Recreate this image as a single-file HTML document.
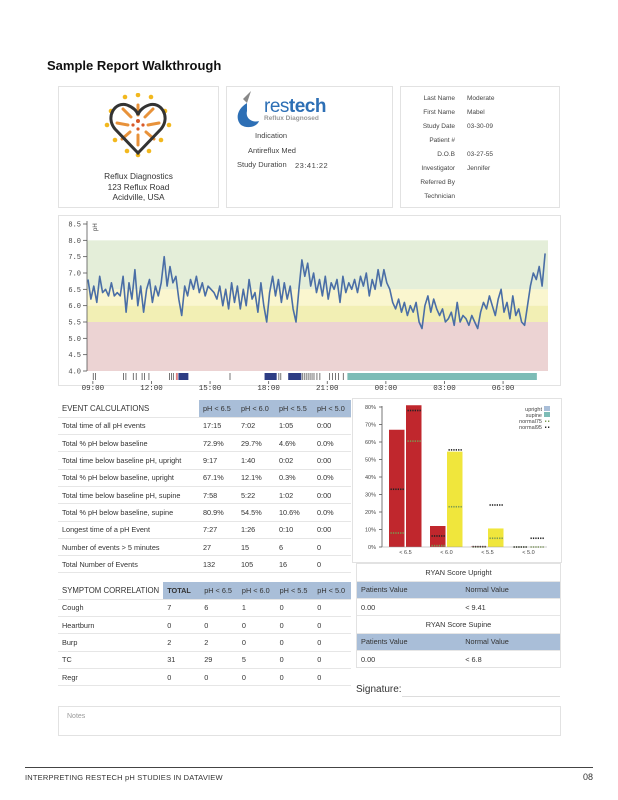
<!DOCTYPE html>
<html><head><meta charset="utf-8"><style>
*{box-sizing:border-box;margin:0;padding:0}
body{width:618px;height:800px;background:#fff;font-family:"Liberation Sans",sans-serif;color:#333;position:relative;overflow:hidden}
.abs{position:absolute}
.box{position:absolute;border:1px solid #e2e2e2;background:#fff}
.t{position:absolute;font-size:7px;color:#444;white-space:nowrap}
table{border-collapse:collapse;font-size:7.3px;color:#333}
td{height:17.3px;border-bottom:1px solid #e6e6e6;padding:0 4px;white-space:nowrap}
.hd{background:#a9bed8}
</style></head><body>
<div class="abs" style="left:47px;top:58px;font-size:13px;font-weight:bold;color:#111">Sample Report Walkthrough</div>

<div class="box" style="left:58px;top:86px;width:161px;height:122px">
<svg class="abs" style="left:44px;top:6px" width="70" height="70" viewBox="0 0 70 70">
<g fill="#f2b81e"><circle cx="22" cy="4" r="2.3"/><circle cx="35" cy="2" r="2.3"/><circle cx="48" cy="4" r="2.3"/><circle cx="62" cy="18" r="2.3"/><circle cx="66" cy="32" r="2.3"/><circle cx="58" cy="47" r="2.3"/><circle cx="46" cy="58" r="2.3"/><circle cx="35" cy="62" r="2.3"/><circle cx="24" cy="58" r="2.3"/><circle cx="12" cy="47" r="2.3"/><circle cx="4" cy="32" r="2.3"/><circle cx="8" cy="18" r="2.3"/></g>
<g stroke="#e8923a" stroke-width="3" stroke-linecap="round"><line x1="35" y1="22" x2="35" y2="12"/><line x1="28" y1="24" x2="20" y2="16"/><line x1="42" y1="24" x2="50" y2="16"/><line x1="25" y1="32" x2="14" y2="30"/><line x1="45" y1="32" x2="56" y2="30"/><line x1="27" y1="39" x2="19" y2="46"/><line x1="43" y1="39" x2="51" y2="46"/><line x1="35" y1="42" x2="35" y2="52"/></g>
<g fill="#d85a2a"><circle cx="35" cy="28" r="2"/><circle cx="30" cy="32" r="1.6"/><circle cx="40" cy="32" r="1.6"/><circle cx="35" cy="36" r="1.6"/></g>
<path d="M35 60 L12 36 C2 24 12 8 24 12 C30 14 34 18 35 22 C36 18 40 14 46 12 C58 8 68 24 58 36 Z" fill="none" stroke="#333" stroke-width="3"/>
</svg>
<div class="abs" style="left:0;width:159px;top:84px;text-align:center;font-size:8.3px;line-height:10.5px;color:#333">Reflux Diagnostics<br>123 Reflux Road<br>Acidville, USA</div>
</div>

<div class="box" style="left:226px;top:86px;width:167px;height:122px">
<svg class="abs" style="left:6px;top:2px" width="30" height="40" viewBox="0 0 30 40"><path d="M18 2 L10 10 L14 14 Z" fill="#888"/><path d="M14 14 C4 20 2 30 8 36 C14 40 24 38 26 32 C20 34 12 30 14 22 Z" fill="#2d6fb5"/></svg>
<div class="abs" style="left:37px;top:9px;font-size:19px;color:#2d6fb5;letter-spacing:-0.5px">res<b>tech</b></div>
<div class="abs" style="left:37px;top:28px;font-size:6.5px;color:#999;font-weight:bold">Reflux Diagnosed</div>
<div class="t" style="left:28px;top:44px;font-size:7.5px">Indication</div>
<div class="t" style="left:21px;top:59px;font-size:7.5px">Antireflux Med</div>
<div class="t" style="left:10px;top:73px;font-size:7.5px">Study Duration</div>
<div class="t" style="left:68px;top:74px;font-size:7.5px;letter-spacing:.5px">23:41:22</div>
</div>

<div class="box" style="left:400px;top:86px;width:160px;height:122px">
<div class="abs" style="right:104px;top:5px;text-align:right;font-size:6.5px;line-height:14px;color:#444">Last Name<br>First Name<br>Study Date<br>Patient #<br>D.O.B<br>Investigator<br>Referred By<br>Technician</div>
<div class="abs" style="left:66px;top:5px;font-size:6.5px;line-height:14px;color:#444">Moderate<br>Mabel<br>03-30-09<br><br>03-27-55<br>Jennifer</div>
</div>

<div class="box" style="left:58px;top:215px;width:503px;height:171px"></div>
<svg id="ph" class="abs" style="left:0;top:0" width="618" height="400"></svg>

<div class="box" style="left:58px;top:400px;width:293px;height:176px;border:none">
<table style="width:293px">
<tr><td style="width:141px;font-size:7.8px">EVENT CALCULATIONS</td><td class="hd">pH &lt; 6.5</td><td class="hd">pH &lt; 6.0</td><td class="hd">pH &lt; 5.5</td><td class="hd">pH &lt; 5.0</td></tr>
<tr><td>Total time of all pH events</td><td>17:15</td><td>7:02</td><td>1:05</td><td>0:00</td></tr>
<tr><td>Total % pH below baseline</td><td>72.9%</td><td>29.7%</td><td>4.6%</td><td>0.0%</td></tr>
<tr><td>Total time below baseline pH, upright</td><td>9:17</td><td>1:40</td><td>0:02</td><td>0:00</td></tr>
<tr><td>Total % pH below baseline, upright</td><td>67.1%</td><td>12.1%</td><td>0.3%</td><td>0.0%</td></tr>
<tr><td>Total time below baseline pH, supine</td><td>7:58</td><td>5:22</td><td>1:02</td><td>0:00</td></tr>
<tr><td>Total % pH below baseline, supine</td><td>80.9%</td><td>54.5%</td><td>10.6%</td><td>0.0%</td></tr>
<tr><td>Longest time of a pH Event</td><td>7:27</td><td>1:26</td><td>0:10</td><td>0:00</td></tr>
<tr><td>Number of events &gt; 5 minutes</td><td>27</td><td>15</td><td>6</td><td>0</td></tr>
<tr><td>Total Number of Events</td><td>132</td><td>105</td><td>16</td><td>0</td></tr>
</table></div>

<div class="box" style="left:58px;top:582px;width:293px;height:105px;border:none">
<table style="width:293px">
<tr><td style="width:105px;font-size:7.8px">SYMPTOM CORRELATION</td><td class="hd" style="width:37px;font-weight:bold">TOTAL</td><td class="hd">pH &lt; 6.5</td><td class="hd">pH &lt; 6.0</td><td class="hd">pH &lt; 5.5</td><td class="hd">pH &lt; 5.0</td></tr>
<tr><td>Cough</td><td>7</td><td>6</td><td>1</td><td>0</td><td>0</td></tr>
<tr><td>Heartburn</td><td>0</td><td>0</td><td>0</td><td>0</td><td>0</td></tr>
<tr><td>Burp</td><td>2</td><td>2</td><td>0</td><td>0</td><td>0</td></tr>
<tr><td>TC</td><td>31</td><td>29</td><td>5</td><td>0</td><td>0</td></tr>
<tr><td>Regr</td><td>0</td><td>0</td><td>0</td><td>0</td><td>0</td></tr>
</table></div>

<div class="box" style="left:352px;top:398px;width:210px;height:165px"></div>
<svg id="bar" class="abs" style="left:352px;top:398px" width="210" height="165"></svg>

<div class="box" style="left:356px;top:563px;width:205px;height:105px">
<table style="width:203px;font-size:7.3px">
<tr><td colspan="2" style="text-align:center">RYAN Score Upright</td></tr>
<tr class="hd"><td>Patients Value</td><td>Normal Value</td></tr>
<tr><td>0.00</td><td>&lt; 9.41</td></tr>
<tr><td colspan="2" style="text-align:center">RYAN Score Supine</td></tr>
<tr class="hd"><td>Patients Value</td><td>Normal Value</td></tr>
<tr><td style="border:none">0.00</td><td style="border:none">&lt; 6.8</td></tr>
</table></div>

<div class="abs" style="left:356px;top:684px;font-size:10px;color:#333">Signature:</div>
<div class="abs" style="left:402px;top:696px;width:158px;border-bottom:1px solid #ddd"></div>
<div class="box" style="left:58px;top:706px;width:503px;height:30px"><div class="t" style="left:8px;top:6px;color:#999">Notes</div></div>

<div class="abs" style="left:25px;top:767px;width:568px;border-top:1px solid #444"></div>
<div class="abs" style="left:25px;top:773px;font-size:7.5px;color:#333;letter-spacing:.2px">INTERPRETING RESTECH pH STUDIES IN DATAVIEW</div>
<div class="abs" style="left:583px;top:772px;font-size:9px;color:#333">08</div>

<script>
const phValues=[6.8,6.2,6.6,6.1,6.9,6.4,6.5,6.3,6.7,6.3,
6.4,6.3,6.9,5.8,6.7,6.2,7.1,6.0,6.6,5.8,
6.5,6.8,6.1,6.6,6.3,6.7,7.5,6.6,7.2,6.7,
6.9,6.2,5.7,6.6,6.3,6.8,6.5,6.9,6.4,6.7,
6.3,6.6,6.5,6.4,6.2,6.6,6.0,6.5,5.9,6.7,
6.1,6.6,5.9,6.5,6.0,6.8,6.2,6.4,5.8,6.7,
6.0,5.5,6.4,6.9,6.3,6.8,6.1,6.7,6.2,6.6,
5.9,5.5,6.5,7.4,6.9,7.3,6.6,7.0,6.4,6.8,
6.3,6.9,6.2,6.7,6.5,6.8,6.1,6.9,6.4,6.7,
6.5,6.8,6.4,6.9,6.6,7.0,6.3,6.8,6.5,7.1,
6.6,7.1,6.7,6.5,6.1,5.9,6.2,5.8,6.1,5.7,
6.0,5.8,6.1,5.5,5.3,6.0,6.3,5.8,6.2,5.9,
5.7,5.9,5.5,5.6,5.8,5.4,6.1,5.5,5.7,5.6,
5.4,5.7,5.5,5.3,5.8,6.1,5.9,6.3,6.0,5.7,
6.2,6.5,5.8,6.1,5.6,6.3,5.7,5.9,5.5,5.4,
6.0,6.6,7.0,6.8,7.2,6.6,7.6];
const phStartHour=8.75, phStepHours=0.15;
const yTicks=[4.0,4.5,5.0,5.5,6.0,6.5,7.0,7.5,8.0,8.5];
const xTickHours=[9,12,15,18,21,24,27,30];
const xTickLabels=["09:00","12:00","15:00","18:00","21:00","00:00","03:00","06:00"];
const bands=[[6.5,8.0,"#e4eed9"],[6.0,6.5,"#faf6cf"],[5.5,6.0,"#f2efb4"],[4.0,5.5,"#ecd3d3"]];
const eventBlocks=[[22.03,31.73,"#7dbcb6"],[13.38,13.89,"#2e3d84"],[17.79,18.41,"#2e3d84"],[19.0,19.67,"#2e3d84"],[13.25,13.35,"#e08080"]];
const eventTicks=[9.0,9.12,10.55,10.67,11.05,11.2,11.5,11.62,11.85,12.9,13.0,13.1,16.0,18.5,18.6,19.7,19.8,19.9,20.0,20.1,20.2,20.3,20.45,20.6,21.1,21.25,21.4,21.55,21.8];
const NS="http://www.w3.org/2000/svg";
function mk(p,t,a){const e=document.createElementNS(NS,t);for(const k in a)e.setAttribute(k,a[k]);p.appendChild(e);return e;}
const ph=document.getElementById('ph');
const X0=87,X1=548,H0=8.7,H1=32.3;
const xS=h=>X0+(h-H0)/(H1-H0)*(X1-X0);
const yS=v=>371-(v-4)/4.5*147;
bands.forEach(b=>{const r=mk(ph,'rect',{x:X0,y:yS(b[1]),width:X1-X0,height:yS(b[0])-yS(b[1]),fill:b[2]});

});
mk(ph,'line',{x1:X0,y1:221,x2:X0,y2:371,stroke:'#555','stroke-width':0.8});
yTicks.forEach(v=>{mk(ph,'line',{x1:X0-4,y1:yS(v),x2:X0,y2:yS(v),stroke:'#555','stroke-width':0.8});
const t=mk(ph,'text',{x:X0-6,y:yS(v)+2.5,'text-anchor':'end','font-size':7,fill:'#444','font-family':'Liberation Mono, monospace'});t.textContent=v.toFixed(1);

});
const yl=mk(ph,'text',{x:92,y:232,'font-size':6,fill:'#444',transform:'rotate(-90 94 229)'});yl.textContent='pH';
let d='';phValues.forEach((v,i)=>{d+=(i?'L':'M')+xS(phStartHour+i*phStepHours).toFixed(1)+' '+yS(v).toFixed(1);});
const line=mk(ph,'path',{d:d,fill:'none',stroke:'#4a6ea6','stroke-width':1.6,'stroke-linejoin':'round'});


eventBlocks.forEach(b=>{const r=mk(ph,'rect',{x:xS(b[0]),y:373,width:xS(b[1])-xS(b[0]),height:7,fill:b[2]});

});
eventTicks.forEach(h=>{const r=mk(ph,'rect',{x:xS(h),y:373,width:0.8,height:7,fill:'#555'});

});
xTickHours.forEach((h,i)=>{mk(ph,'line',{x1:xS(h),y1:381,x2:xS(h),y2:384,stroke:'#555','stroke-width':0.8});
const t=mk(ph,'text',{x:xS(h),y:390,'text-anchor':'middle','font-size':7.5,fill:'#333','font-family':'Liberation Mono, monospace'});t.textContent=xTickLabels[i];

});

// bar chart
const barCategories=["< 6.5","< 6.0","< 5.5","< 5.0"];
const uprightValues=[67,12,0.3,0];
const supineValues=[81,54.5,10.6,0];
const uprightColors=["#c0272d","#c0272d","#c0272d","#c0272d"];
const supineColors=["#c0272d","#f0e63c","#f0e63c","#f0e63c"];
const uprightNormal75=[8,0.8,0,0];
const uprightNormal95=[33,6.3,0.2,0];
const supineNormal75=[60.5,23,5,0];
const supineNormal95=[78,55.5,24,5];
const pctTicks=[0,10,20,30,40,50,60,70,80];
const bar=document.getElementById('bar');
const bY=v=>149-v/80*140, AX=30, groupW=41, barW=15.5;
mk(bar,'line',{x1:AX,y1:8,x2:AX,y2:149,stroke:'#555','stroke-width':0.8});
pctTicks.forEach(p=>{mk(bar,'line',{x1:AX-3,y1:bY(p),x2:AX,y2:bY(p),stroke:'#555','stroke-width':0.8});
const t=mk(bar,'text',{x:AX-6,y:bY(p)+2,'text-anchor':'end','font-size':5.5,fill:'#444'});t.textContent=p+'%';

});
function dots(x,v,c){for(let k=0;k<6;k++)mk(bar,'rect',{x:x+1.5+k*2.4,y:bY(v)-0.8,width:1.3,height:1.6,fill:c});}
barCategories.forEach((c,i)=>{const gx=AX+7+i*groupW;
const r1=mk(bar,'rect',{x:gx,y:bY(uprightValues[i]),width:barW,height:149-bY(uprightValues[i]),fill:uprightColors[i]});


const r2=mk(bar,'rect',{x:gx+barW+1.5,y:bY(supineValues[i]),width:barW,height:149-bY(supineValues[i]),fill:supineColors[i]});


dots(gx,uprightNormal75[i],'#7a9a50');dots(gx,uprightNormal95[i],'#222');
dots(gx+barW+1.5,supineNormal75[i],'#7a9a50');dots(gx+barW+1.5,supineNormal95[i],'#222');
const t=mk(bar,'text',{x:gx+barW+1,y:156,'text-anchor':'middle','font-size':5.5,fill:'#444'});t.textContent=c;

});
mk(bar,'line',{x1:AX,y1:149,x2:AX+165,y2:149,stroke:'#999','stroke-width':0.5});
const legend=[["upright","rect","#a9bed8"],["supine","rect","#7dbcb6"],["normal75","dot","#7a9a50"],["normal95","dot","#222"]];
legend.forEach((l,i)=>{const y=11+i*6;const t=mk(bar,'text',{x:190,y:y+2,'text-anchor':'end','font-size':5.5,fill:'#444'});t.textContent=l[0];


if(l[1]=='rect')mk(bar,'rect',{x:192,y:y-3,width:6,height:5,fill:l[2]});
else{mk(bar,'rect',{x:193,y:y-0.5,width:1.3,height:1.5,fill:l[2]});mk(bar,'rect',{x:196,y:y-0.5,width:1.3,height:1.5,fill:l[2]});}});
</script>
</body></html>
